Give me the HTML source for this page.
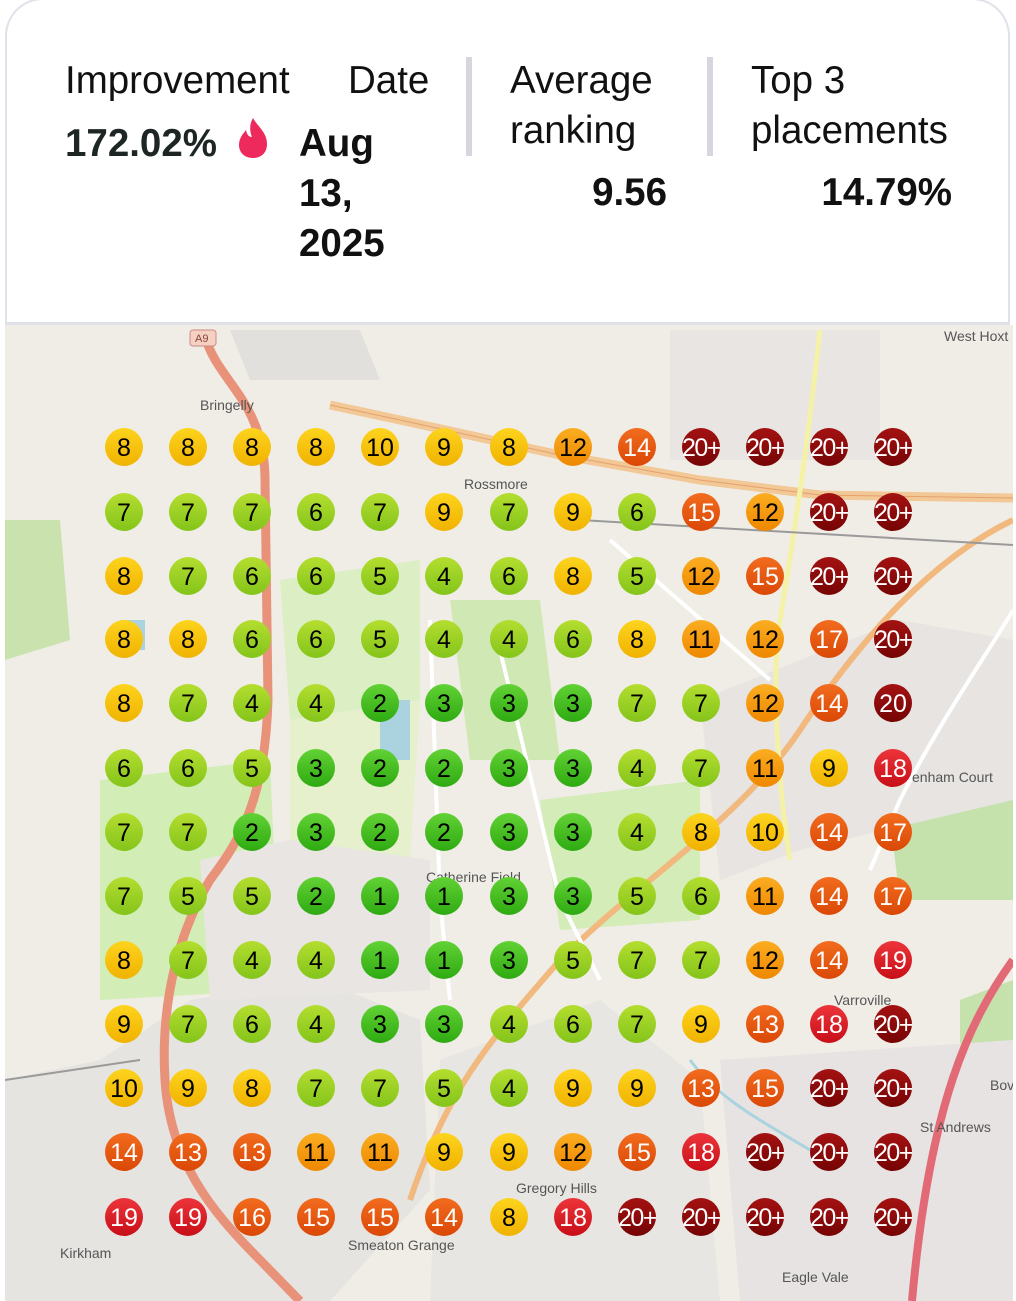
<!DOCTYPE html>
<html><head><meta charset="utf-8"><style>
html,body{margin:0;padding:0;background:#fff;}
body{width:1016px;height:1301px;position:relative;overflow:hidden;font-family:"Liberation Sans",sans-serif;}
.card{position:absolute;left:5px;top:-2px;width:1005px;height:327px;border:2px solid #e1e1ea;border-bottom-width:3px;border-radius:38px 38px 0 0;background:#fff;box-sizing:border-box;z-index:2;}
.t{position:absolute;font-size:38.5px;color:#111;line-height:50px;white-space:nowrap;}
.b{font-weight:bold;}
.div{position:absolute;width:6px;background:#d6d6de;top:57px;height:99px;}
.map{position:absolute;left:5px;top:325px;width:1008px;height:976px;overflow:hidden;}
svg text{font-family:"Liberation Sans",sans-serif;}
</style></head><body>
<div class="card">
<div class="t" style="left:58px;top:56px">Improvement</div>
<div class="t" style="left:341px;top:56px">Date</div>
<div class="t b" style="left:58px;top:119px;color:#1d2624">172.02%</div>
<svg style="position:absolute;left:228px;top:116px" width="36" height="44" viewBox="0 0 36 44"><path d="M18 2 C22 10 32 16 32 28 C32 37 26 42 18 42 C10 42 4 37 4 29 C4 22 8 18 11 14 C12 19 14 21 17 21 C14 14 15 7 18 2Z" fill="#ee2a5c"/></svg>
<div class="t b" style="left:292px;top:119px">Aug<br>13,<br>2025</div>
<div class="div" style="left:459px"></div>
<div class="t" style="left:503px;top:56px">Average<br>ranking</div>
<div class="t b" style="left:503px;top:168px;width:157px;text-align:right">9.56</div>
<div class="div" style="left:700px"></div>
<div class="t" style="left:744px;top:56px">Top 3<br>placements</div>
<div class="t b" style="left:744px;top:168px;width:201px;text-align:right">14.79%</div>
</div>
<div class="map">
<svg width="1008" height="976" viewBox="5 325 1008 976" xmlns="http://www.w3.org/2000/svg">
<defs>
<linearGradient id="G" x1="0" y1="0" x2="0" y2="1"><stop offset="0" stop-color="#62d234"/><stop offset="1" stop-color="#2eaa12"/></linearGradient>
<linearGradient id="L" x1="0" y1="0" x2="0" y2="1"><stop offset="0" stop-color="#b4de30"/><stop offset="1" stop-color="#84c41a"/></linearGradient>
<linearGradient id="Y" x1="0" y1="0" x2="0" y2="1"><stop offset="0" stop-color="#fdd41e"/><stop offset="1" stop-color="#f0b200"/></linearGradient>
<linearGradient id="O" x1="0" y1="0" x2="0" y2="1"><stop offset="0" stop-color="#fbae22"/><stop offset="1" stop-color="#ee8800"/></linearGradient>
<linearGradient id="R" x1="0" y1="0" x2="0" y2="1"><stop offset="0" stop-color="#f26c1e"/><stop offset="1" stop-color="#da4806"/></linearGradient>
<linearGradient id="D" x1="0" y1="0" x2="0" y2="1"><stop offset="0" stop-color="#ec353a"/><stop offset="1" stop-color="#c80f18"/></linearGradient>
<linearGradient id="K" x1="0" y1="0" x2="0" y2="1"><stop offset="0" stop-color="#a41212"/><stop offset="1" stop-color="#760404"/></linearGradient>
</defs>
<rect x="5" y="325" width="1008" height="976" fill="#f0ede6"/>
<path d="M100 780 L270 760 L280 990 L100 1000Z" fill="#d3edb6"/>
<path d="M280 580 L420 560 L420 700 L290 720Z" fill="#dcefc4"/>
<path d="M290 720 L420 700 L410 860 L290 850Z" fill="#e6f0cc"/>
<path d="M450 600 L540 600 L560 760 L470 760Z" fill="#cfe8b4"/>
<path d="M540 800 L700 780 L700 920 L560 930Z" fill="#d3ecb8"/>
<path d="M5 520 L60 520 L70 640 L5 660Z" fill="#c9e2ae"/>
<path d="M880 740 L1013 720 L1013 900 L900 900Z" fill="#c5e2ac"/>
<path d="M960 1000 L1013 980 L1013 1060 L960 1080Z" fill="#c5e2ac"/>
<path d="M5 1080 L100 1060 L190 1000 L320 980 L420 1020 L430 1190 L330 1301 L5 1301Z" fill="#e6e4e1"/>
<path d="M440 1060 L600 1000 L700 1080 L720 1301 L430 1301Z" fill="#e8e6e2"/>
<path d="M720 1060 L1013 1040 L1013 1301 L740 1301Z" fill="#e6e3e2"/>
<path d="M700 700 L900 620 L1013 640 L1013 800 L800 850 L720 880Z" fill="#e7e4e2"/>
<path d="M670 330 L880 330 L880 460 L670 460Z" fill="#e8e5e3"/>
<path d="M200 860 L290 840 L430 860 L430 990 L210 1000Z" fill="#e8e5e2"/>
<path d="M230 330 L360 330 L380 380 L250 380Z" fill="#e2e0dc"/>
<path d="M690 1060 C720 1100 760 1120 810 1150" stroke="#aad3df" stroke-width="3" fill="none"/>
<rect x="380" y="700" width="30" height="60" fill="#aad3df"/>
<rect x="120" y="620" width="25" height="30" fill="#aad3df"/>
<path d="M330 405 L400 420 L560 455 L700 480 L820 495 L1013 498" stroke="#f2c896" stroke-width="9" fill="none"/>
<path d="M330 405 L400 420 L560 455 L700 480 L820 495 L1013 498" stroke="#e5a06c" stroke-width="1" fill="none"/>
<path d="M205 335 C215 380 265 400 265 480 L268 700 C265 800 240 840 210 880 C180 930 160 1000 165 1080 C170 1160 210 1210 260 1260 L300 1301" stroke="#e9927a" stroke-width="9" fill="none"/>
<path d="M1013 520 C930 560 860 640 800 730 C740 820 640 880 560 960 C500 1030 450 1080 410 1200" stroke="#f2b97f" stroke-width="6" fill="none"/>
<path d="M1013 610 C990 650 940 720 900 800 L870 870" stroke="#fff" stroke-width="4" fill="none"/>
<path d="M1013 960 C970 1020 930 1100 912 1301" stroke="#e26a76" stroke-width="8" fill="none"/>
<path d="M820 330 C810 420 800 500 780 620 C770 680 780 800 790 860" stroke="#f4f2a6" stroke-width="5" fill="none"/>
<path d="M430 620 L440 900 L450 1000 M500 650 L560 900 L600 980 M610 540 L770 680" stroke="#fff" stroke-width="4" fill="none"/>
<path d="M5 1080 L140 1060 M580 520 L1013 545" stroke="#9a9a9a" stroke-width="2" fill="none"/>
<g font-size="14" fill="#555">
<text x="200" y="410">Bringelly</text>
<text x="464" y="489">Rossmore</text>
<text x="426" y="882">Catherine Field</text>
<text x="944" y="341">West Hoxt</text>
<text x="912" y="782">enham Court</text>
<text x="834" y="1005">Varroville</text>
<text x="920" y="1132">St Andrews</text>
<text x="516" y="1193">Gregory Hills</text>
<text x="348" y="1250">Smeaton Grange</text>
<text x="60" y="1258">Kirkham</text>
<text x="782" y="1282">Eagle Vale</text>
<text x="990" y="1090">Bov</text>
</g>
<rect x="190" y="330" width="26" height="16" rx="3" fill="#f6d0c0" stroke="#c88"/>
<text x="195" y="342" font-size="11" fill="#844">A9</text>
<g font-size="25" text-anchor="middle">
<g transform="translate(0,447)"><circle cx="124" r="19" fill="url(#Y)"/><text x="124" y="9">8</text><circle cx="188" r="19" fill="url(#Y)"/><text x="188" y="9">8</text><circle cx="252" r="19" fill="url(#Y)"/><text x="252" y="9">8</text><circle cx="316" r="19" fill="url(#Y)"/><text x="316" y="9">8</text><circle cx="380" r="19" fill="url(#Y)"/><text x="380" y="9">10</text><circle cx="444" r="19" fill="url(#Y)"/><text x="444" y="9">9</text><circle cx="509" r="19" fill="url(#Y)"/><text x="509" y="9">8</text><circle cx="573" r="19" fill="url(#O)"/><text x="573" y="9">12</text><circle cx="637" r="19" fill="url(#R)"/><text x="637" y="9" fill="#fff">14</text><circle cx="701" r="19" fill="url(#K)"/><text x="701" y="9" fill="#fff" letter-spacing="-1.5">20+</text><circle cx="765" r="19" fill="url(#K)"/><text x="765" y="9" fill="#fff" letter-spacing="-1.5">20+</text><circle cx="829" r="19" fill="url(#K)"/><text x="829" y="9" fill="#fff" letter-spacing="-1.5">20+</text><circle cx="893" r="19" fill="url(#K)"/><text x="893" y="9" fill="#fff" letter-spacing="-1.5">20+</text></g>
<g transform="translate(0,512)"><circle cx="124" r="19" fill="url(#L)"/><text x="124" y="9">7</text><circle cx="188" r="19" fill="url(#L)"/><text x="188" y="9">7</text><circle cx="252" r="19" fill="url(#L)"/><text x="252" y="9">7</text><circle cx="316" r="19" fill="url(#L)"/><text x="316" y="9">6</text><circle cx="380" r="19" fill="url(#L)"/><text x="380" y="9">7</text><circle cx="444" r="19" fill="url(#Y)"/><text x="444" y="9">9</text><circle cx="509" r="19" fill="url(#L)"/><text x="509" y="9">7</text><circle cx="573" r="19" fill="url(#Y)"/><text x="573" y="9">9</text><circle cx="637" r="19" fill="url(#L)"/><text x="637" y="9">6</text><circle cx="701" r="19" fill="url(#R)"/><text x="701" y="9" fill="#fff">15</text><circle cx="765" r="19" fill="url(#O)"/><text x="765" y="9">12</text><circle cx="829" r="19" fill="url(#K)"/><text x="829" y="9" fill="#fff" letter-spacing="-1.5">20+</text><circle cx="893" r="19" fill="url(#K)"/><text x="893" y="9" fill="#fff" letter-spacing="-1.5">20+</text></g>
<g transform="translate(0,576)"><circle cx="124" r="19" fill="url(#Y)"/><text x="124" y="9">8</text><circle cx="188" r="19" fill="url(#L)"/><text x="188" y="9">7</text><circle cx="252" r="19" fill="url(#L)"/><text x="252" y="9">6</text><circle cx="316" r="19" fill="url(#L)"/><text x="316" y="9">6</text><circle cx="380" r="19" fill="url(#L)"/><text x="380" y="9">5</text><circle cx="444" r="19" fill="url(#L)"/><text x="444" y="9">4</text><circle cx="509" r="19" fill="url(#L)"/><text x="509" y="9">6</text><circle cx="573" r="19" fill="url(#Y)"/><text x="573" y="9">8</text><circle cx="637" r="19" fill="url(#L)"/><text x="637" y="9">5</text><circle cx="701" r="19" fill="url(#O)"/><text x="701" y="9">12</text><circle cx="765" r="19" fill="url(#R)"/><text x="765" y="9" fill="#fff">15</text><circle cx="829" r="19" fill="url(#K)"/><text x="829" y="9" fill="#fff" letter-spacing="-1.5">20+</text><circle cx="893" r="19" fill="url(#K)"/><text x="893" y="9" fill="#fff" letter-spacing="-1.5">20+</text></g>
<g transform="translate(0,639)"><circle cx="124" r="19" fill="url(#Y)"/><text x="124" y="9">8</text><circle cx="188" r="19" fill="url(#Y)"/><text x="188" y="9">8</text><circle cx="252" r="19" fill="url(#L)"/><text x="252" y="9">6</text><circle cx="316" r="19" fill="url(#L)"/><text x="316" y="9">6</text><circle cx="380" r="19" fill="url(#L)"/><text x="380" y="9">5</text><circle cx="444" r="19" fill="url(#L)"/><text x="444" y="9">4</text><circle cx="509" r="19" fill="url(#L)"/><text x="509" y="9">4</text><circle cx="573" r="19" fill="url(#L)"/><text x="573" y="9">6</text><circle cx="637" r="19" fill="url(#Y)"/><text x="637" y="9">8</text><circle cx="701" r="19" fill="url(#O)"/><text x="701" y="9">11</text><circle cx="765" r="19" fill="url(#O)"/><text x="765" y="9">12</text><circle cx="829" r="19" fill="url(#R)"/><text x="829" y="9" fill="#fff">17</text><circle cx="893" r="19" fill="url(#K)"/><text x="893" y="9" fill="#fff" letter-spacing="-1.5">20+</text></g>
<g transform="translate(0,703)"><circle cx="124" r="19" fill="url(#Y)"/><text x="124" y="9">8</text><circle cx="188" r="19" fill="url(#L)"/><text x="188" y="9">7</text><circle cx="252" r="19" fill="url(#L)"/><text x="252" y="9">4</text><circle cx="316" r="19" fill="url(#L)"/><text x="316" y="9">4</text><circle cx="380" r="19" fill="url(#G)"/><text x="380" y="9">2</text><circle cx="444" r="19" fill="url(#G)"/><text x="444" y="9">3</text><circle cx="509" r="19" fill="url(#G)"/><text x="509" y="9">3</text><circle cx="573" r="19" fill="url(#G)"/><text x="573" y="9">3</text><circle cx="637" r="19" fill="url(#L)"/><text x="637" y="9">7</text><circle cx="701" r="19" fill="url(#L)"/><text x="701" y="9">7</text><circle cx="765" r="19" fill="url(#O)"/><text x="765" y="9">12</text><circle cx="829" r="19" fill="url(#R)"/><text x="829" y="9" fill="#fff">14</text><circle cx="893" r="19" fill="url(#K)"/><text x="893" y="9" fill="#fff">20</text></g>
<g transform="translate(0,768)"><circle cx="124" r="19" fill="url(#L)"/><text x="124" y="9">6</text><circle cx="188" r="19" fill="url(#L)"/><text x="188" y="9">6</text><circle cx="252" r="19" fill="url(#L)"/><text x="252" y="9">5</text><circle cx="316" r="19" fill="url(#G)"/><text x="316" y="9">3</text><circle cx="380" r="19" fill="url(#G)"/><text x="380" y="9">2</text><circle cx="444" r="19" fill="url(#G)"/><text x="444" y="9">2</text><circle cx="509" r="19" fill="url(#G)"/><text x="509" y="9">3</text><circle cx="573" r="19" fill="url(#G)"/><text x="573" y="9">3</text><circle cx="637" r="19" fill="url(#L)"/><text x="637" y="9">4</text><circle cx="701" r="19" fill="url(#L)"/><text x="701" y="9">7</text><circle cx="765" r="19" fill="url(#O)"/><text x="765" y="9">11</text><circle cx="829" r="19" fill="url(#Y)"/><text x="829" y="9">9</text><circle cx="893" r="19" fill="url(#D)"/><text x="893" y="9" fill="#fff">18</text></g>
<g transform="translate(0,832)"><circle cx="124" r="19" fill="url(#L)"/><text x="124" y="9">7</text><circle cx="188" r="19" fill="url(#L)"/><text x="188" y="9">7</text><circle cx="252" r="19" fill="url(#G)"/><text x="252" y="9">2</text><circle cx="316" r="19" fill="url(#G)"/><text x="316" y="9">3</text><circle cx="380" r="19" fill="url(#G)"/><text x="380" y="9">2</text><circle cx="444" r="19" fill="url(#G)"/><text x="444" y="9">2</text><circle cx="509" r="19" fill="url(#G)"/><text x="509" y="9">3</text><circle cx="573" r="19" fill="url(#G)"/><text x="573" y="9">3</text><circle cx="637" r="19" fill="url(#L)"/><text x="637" y="9">4</text><circle cx="701" r="19" fill="url(#Y)"/><text x="701" y="9">8</text><circle cx="765" r="19" fill="url(#Y)"/><text x="765" y="9">10</text><circle cx="829" r="19" fill="url(#R)"/><text x="829" y="9" fill="#fff">14</text><circle cx="893" r="19" fill="url(#R)"/><text x="893" y="9" fill="#fff">17</text></g>
<g transform="translate(0,896)"><circle cx="124" r="19" fill="url(#L)"/><text x="124" y="9">7</text><circle cx="188" r="19" fill="url(#L)"/><text x="188" y="9">5</text><circle cx="252" r="19" fill="url(#L)"/><text x="252" y="9">5</text><circle cx="316" r="19" fill="url(#G)"/><text x="316" y="9">2</text><circle cx="380" r="19" fill="url(#G)"/><text x="380" y="9">1</text><circle cx="444" r="19" fill="url(#G)"/><text x="444" y="9">1</text><circle cx="509" r="19" fill="url(#G)"/><text x="509" y="9">3</text><circle cx="573" r="19" fill="url(#G)"/><text x="573" y="9">3</text><circle cx="637" r="19" fill="url(#L)"/><text x="637" y="9">5</text><circle cx="701" r="19" fill="url(#L)"/><text x="701" y="9">6</text><circle cx="765" r="19" fill="url(#O)"/><text x="765" y="9">11</text><circle cx="829" r="19" fill="url(#R)"/><text x="829" y="9" fill="#fff">14</text><circle cx="893" r="19" fill="url(#R)"/><text x="893" y="9" fill="#fff">17</text></g>
<g transform="translate(0,960)"><circle cx="124" r="19" fill="url(#Y)"/><text x="124" y="9">8</text><circle cx="188" r="19" fill="url(#L)"/><text x="188" y="9">7</text><circle cx="252" r="19" fill="url(#L)"/><text x="252" y="9">4</text><circle cx="316" r="19" fill="url(#L)"/><text x="316" y="9">4</text><circle cx="380" r="19" fill="url(#G)"/><text x="380" y="9">1</text><circle cx="444" r="19" fill="url(#G)"/><text x="444" y="9">1</text><circle cx="509" r="19" fill="url(#G)"/><text x="509" y="9">3</text><circle cx="573" r="19" fill="url(#L)"/><text x="573" y="9">5</text><circle cx="637" r="19" fill="url(#L)"/><text x="637" y="9">7</text><circle cx="701" r="19" fill="url(#L)"/><text x="701" y="9">7</text><circle cx="765" r="19" fill="url(#O)"/><text x="765" y="9">12</text><circle cx="829" r="19" fill="url(#R)"/><text x="829" y="9" fill="#fff">14</text><circle cx="893" r="19" fill="url(#D)"/><text x="893" y="9" fill="#fff">19</text></g>
<g transform="translate(0,1024)"><circle cx="124" r="19" fill="url(#Y)"/><text x="124" y="9">9</text><circle cx="188" r="19" fill="url(#L)"/><text x="188" y="9">7</text><circle cx="252" r="19" fill="url(#L)"/><text x="252" y="9">6</text><circle cx="316" r="19" fill="url(#L)"/><text x="316" y="9">4</text><circle cx="380" r="19" fill="url(#G)"/><text x="380" y="9">3</text><circle cx="444" r="19" fill="url(#G)"/><text x="444" y="9">3</text><circle cx="509" r="19" fill="url(#L)"/><text x="509" y="9">4</text><circle cx="573" r="19" fill="url(#L)"/><text x="573" y="9">6</text><circle cx="637" r="19" fill="url(#L)"/><text x="637" y="9">7</text><circle cx="701" r="19" fill="url(#Y)"/><text x="701" y="9">9</text><circle cx="765" r="19" fill="url(#R)"/><text x="765" y="9" fill="#fff">13</text><circle cx="829" r="19" fill="url(#D)"/><text x="829" y="9" fill="#fff">18</text><circle cx="893" r="19" fill="url(#K)"/><text x="893" y="9" fill="#fff" letter-spacing="-1.5">20+</text></g>
<g transform="translate(0,1088)"><circle cx="124" r="19" fill="url(#Y)"/><text x="124" y="9">10</text><circle cx="188" r="19" fill="url(#Y)"/><text x="188" y="9">9</text><circle cx="252" r="19" fill="url(#Y)"/><text x="252" y="9">8</text><circle cx="316" r="19" fill="url(#L)"/><text x="316" y="9">7</text><circle cx="380" r="19" fill="url(#L)"/><text x="380" y="9">7</text><circle cx="444" r="19" fill="url(#L)"/><text x="444" y="9">5</text><circle cx="509" r="19" fill="url(#L)"/><text x="509" y="9">4</text><circle cx="573" r="19" fill="url(#Y)"/><text x="573" y="9">9</text><circle cx="637" r="19" fill="url(#Y)"/><text x="637" y="9">9</text><circle cx="701" r="19" fill="url(#R)"/><text x="701" y="9" fill="#fff">13</text><circle cx="765" r="19" fill="url(#R)"/><text x="765" y="9" fill="#fff">15</text><circle cx="829" r="19" fill="url(#K)"/><text x="829" y="9" fill="#fff" letter-spacing="-1.5">20+</text><circle cx="893" r="19" fill="url(#K)"/><text x="893" y="9" fill="#fff" letter-spacing="-1.5">20+</text></g>
<g transform="translate(0,1152)"><circle cx="124" r="19" fill="url(#R)"/><text x="124" y="9" fill="#fff">14</text><circle cx="188" r="19" fill="url(#R)"/><text x="188" y="9" fill="#fff">13</text><circle cx="252" r="19" fill="url(#R)"/><text x="252" y="9" fill="#fff">13</text><circle cx="316" r="19" fill="url(#O)"/><text x="316" y="9">11</text><circle cx="380" r="19" fill="url(#O)"/><text x="380" y="9">11</text><circle cx="444" r="19" fill="url(#Y)"/><text x="444" y="9">9</text><circle cx="509" r="19" fill="url(#Y)"/><text x="509" y="9">9</text><circle cx="573" r="19" fill="url(#O)"/><text x="573" y="9">12</text><circle cx="637" r="19" fill="url(#R)"/><text x="637" y="9" fill="#fff">15</text><circle cx="701" r="19" fill="url(#D)"/><text x="701" y="9" fill="#fff">18</text><circle cx="765" r="19" fill="url(#K)"/><text x="765" y="9" fill="#fff" letter-spacing="-1.5">20+</text><circle cx="829" r="19" fill="url(#K)"/><text x="829" y="9" fill="#fff" letter-spacing="-1.5">20+</text><circle cx="893" r="19" fill="url(#K)"/><text x="893" y="9" fill="#fff" letter-spacing="-1.5">20+</text></g>
<g transform="translate(0,1217)"><circle cx="124" r="19" fill="url(#D)"/><text x="124" y="9" fill="#fff">19</text><circle cx="188" r="19" fill="url(#D)"/><text x="188" y="9" fill="#fff">19</text><circle cx="252" r="19" fill="url(#R)"/><text x="252" y="9" fill="#fff">16</text><circle cx="316" r="19" fill="url(#R)"/><text x="316" y="9" fill="#fff">15</text><circle cx="380" r="19" fill="url(#R)"/><text x="380" y="9" fill="#fff">15</text><circle cx="444" r="19" fill="url(#R)"/><text x="444" y="9" fill="#fff">14</text><circle cx="509" r="19" fill="url(#Y)"/><text x="509" y="9">8</text><circle cx="573" r="19" fill="url(#D)"/><text x="573" y="9" fill="#fff">18</text><circle cx="637" r="19" fill="url(#K)"/><text x="637" y="9" fill="#fff" letter-spacing="-1.5">20+</text><circle cx="701" r="19" fill="url(#K)"/><text x="701" y="9" fill="#fff" letter-spacing="-1.5">20+</text><circle cx="765" r="19" fill="url(#K)"/><text x="765" y="9" fill="#fff" letter-spacing="-1.5">20+</text><circle cx="829" r="19" fill="url(#K)"/><text x="829" y="9" fill="#fff" letter-spacing="-1.5">20+</text><circle cx="893" r="19" fill="url(#K)"/><text x="893" y="9" fill="#fff" letter-spacing="-1.5">20+</text></g>
</g>
</svg>
</div>
</body></html>
